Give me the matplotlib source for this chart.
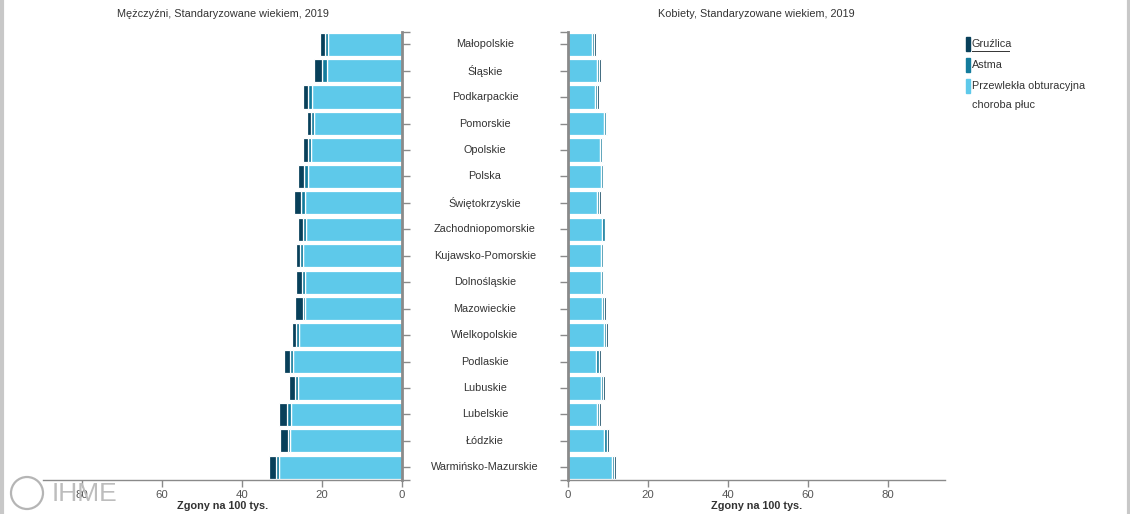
import matplotlib
matplotlib.use("Agg")
import matplotlib.pyplot as plt
from matplotlib.patches import Rectangle, Ellipse
import numpy as np

plt.rcParams['font.family'] = ['Liberation Sans', 'DejaVu Sans']

regions = ["Małopolskie", "Śląskie", "Podkarpackie", "Pomorskie", "Opolskie", "Polska",
           "Świętokrzyskie", "Zachodniopomorskie", "Kujawsko-Pomorskie", "Dolnośląskie",
           "Mazowieckie", "Wielkopolskie", "Podlaskie", "Lubuskie", "Lubelskie", "Łódzkie",
           "Warmińsko-Mazurskie"]

# Men (age-standardised deaths per 100k)
men_copd = [18.6, 18.7, 22.6, 22.0, 22.75, 23.6, 24.25, 24.1, 24.8, 24.25, 24.2, 25.7,
            27.2, 25.9, 27.75, 27.9, 30.8]
men_asthma = [0.7, 1.2, 0.8, 0.8, 0.8, 0.9, 0.9, 0.7, 0.6, 0.7, 0.6, 0.8,
              0.8, 0.9, 0.9, 0.6, 0.8]
men_tb = [1.2, 2.0, 1.3, 0.9, 1.3, 1.6, 1.85, 1.2, 1.2, 1.55, 1.9, 0.9,
          1.5, 1.4, 2.05, 1.9, 1.6]

# Women
women_copd = [6.1, 7.2, 6.75, 9.1, 8.0, 8.2, 7.2, 8.6, 8.3, 8.2, 8.6, 9.0,
              7.1, 8.25, 7.25, 9.1, 10.9]
women_asthma = [0.5, 0.65, 0.6, 0.4, 0.4, 0.6, 0.6, 0.6, 0.35, 0.6, 0.5, 0.5,
                0.6, 0.6, 0.6, 0.6, 0.65]
women_tb = [0.4, 0.4, 0.4, 0.25, 0.35, 0.25, 0.4, 0.1, 0.15, 0.2, 0.5, 0.4,
            0.5, 0.45, 0.45, 0.5, 0.35]

series_names = ["Gruźlica", "Astma", "Przewlekła obturacyjna", "choroba płuc"]
c_tb = "#08405A"
c_asthma = "#137B9C"
c_copd = "#5EC9EA"

W, H = 1130, 514
fig = plt.figure(figsize=(W / 100, H / 100), dpi=100)

def fx(px):
    return px / W

def fy(py):
    return 1 - py / H

FS = 7.8
ax_top, ax_bot = 32, 480
axL = fig.add_axes([fx(43), fy(ax_bot), fx(402) - fx(43), fy(ax_top) - fy(ax_bot)])
axR = fig.add_axes([fx(568), fy(ax_bot), fx(945) - fx(568), fy(ax_top) - fy(ax_bot)])

y = np.arange(len(regions))
bh = 0.88
grey = "#8a8a8a"
tick_col = "#555555"

def draw(ax, copd, asthma, tb):
    copd = np.array(copd); asthma = np.array(asthma); tb = np.array(tb)
    kw = dict(height=bh, edgecolor="white", linewidth=0.9)
    ax.barh(y, copd, color=c_copd, **kw)
    ax.barh(y, asthma, left=copd, color=c_asthma, **kw)
    ax.barh(y, tb, left=copd + asthma, color=c_tb, **kw)
    ax.set_ylim(len(regions) - 0.52, -0.46)
    ax.spines["top"].set_visible(False)
    ax.spines["bottom"].set_color(grey)
    ax.spines["bottom"].set_linewidth(1.0)
    ax.tick_params(axis="x", colors=grey, labelcolor=tick_col, labelsize=8.2, length=5, width=1, pad=2)
    ax.set_xticks([0, 20, 40, 60, 80])
    ax.set_yticks(y)
    ax.set_yticks([len(regions) - 0.52 + 0.0001, -0.46 + 0.0001], minor=True)
    ax.set_yticklabels([])
    ax.tick_params(axis="y", which="both", colors=grey, length=6, width=1)
    ax.set_xlabel("Zgony na 100 tys.", fontsize=FS, fontweight="bold", color="#333333", labelpad=1)
    ax.set_facecolor("none")

draw(axL, men_copd, men_asthma, men_tb)
axL.set_xlim(89.75, 0)
axL.spines["left"].set_visible(False)
axL.spines["right"].set_color(grey)
axL.spines["right"].set_linewidth(2)
axL.yaxis.tick_right()
axL.tick_params(axis="y", which="both", right=True, left=False)

draw(axR, women_copd, women_asthma, women_tb)
axR.set_xlim(0, 94.25)
axR.spines["right"].set_visible(False)
axR.spines["left"].set_color(grey)
axR.spines["left"].set_linewidth(2)

axL.set_title("Mężczyźni, Standaryzowane wiekiem, 2019", fontsize=FS, color="#333333", pad=11)
axR.set_title("Kobiety, Standaryzowane wiekiem, 2019", fontsize=FS, color="#333333", pad=11)

# Category labels in the middle
for i, r in enumerate(regions):
    yy = axL.transData.transform((0, i))[1]
    fig.text(fx(485), yy / fig.dpi / (H / 100), r, ha="center", va="center",
             fontsize=FS, color="#333333")

# Legend
leg_items = [(c_tb, series_names[0], 44), (c_asthma, series_names[1], 65), (c_copd, series_names[2], 86)]
for col, lab, py in leg_items:
    fig.patches.append(Rectangle((fx(966), fy(py + 7)), fx(4), 14 / H, color=col,
                                 transform=fig.transFigure, figure=fig))
    fig.text(fx(972), fy(py), lab, ha="left", va="center", fontsize=FS, color="#333333")
fig.add_artist(plt.Line2D([fx(972), fx(1009)], [fy(51), fy(51)],
                          color="#333333", linewidth=0.7, transform=fig.transFigure))
fig.text(fx(972), fy(105), series_names[3], ha="left", va="center", fontsize=FS, color="#333333")

# IHME watermark
fig.patches.append(Ellipse((fx(27), fy(493)), 32 / W, 32 / H, transform=fig.transFigure,
                           fill=False, edgecolor="#b5b5b5", linewidth=1.6, figure=fig))
fig.text(fx(52), fy(494), "IHME", ha="left", va="center", fontsize=19, color="#bdbdbd")

# panel edges
fig.add_artist(plt.Line2D([fx(1.5), fx(1.5)], [0, 1], color="#c8c8c8", linewidth=3,
                          transform=fig.transFigure))
fig.add_artist(plt.Line2D([fx(1128.5), fx(1128.5)], [0, 1], color="#c8c8c8", linewidth=3,
                          transform=fig.transFigure))

fig.savefig("out.png", dpi=100)
